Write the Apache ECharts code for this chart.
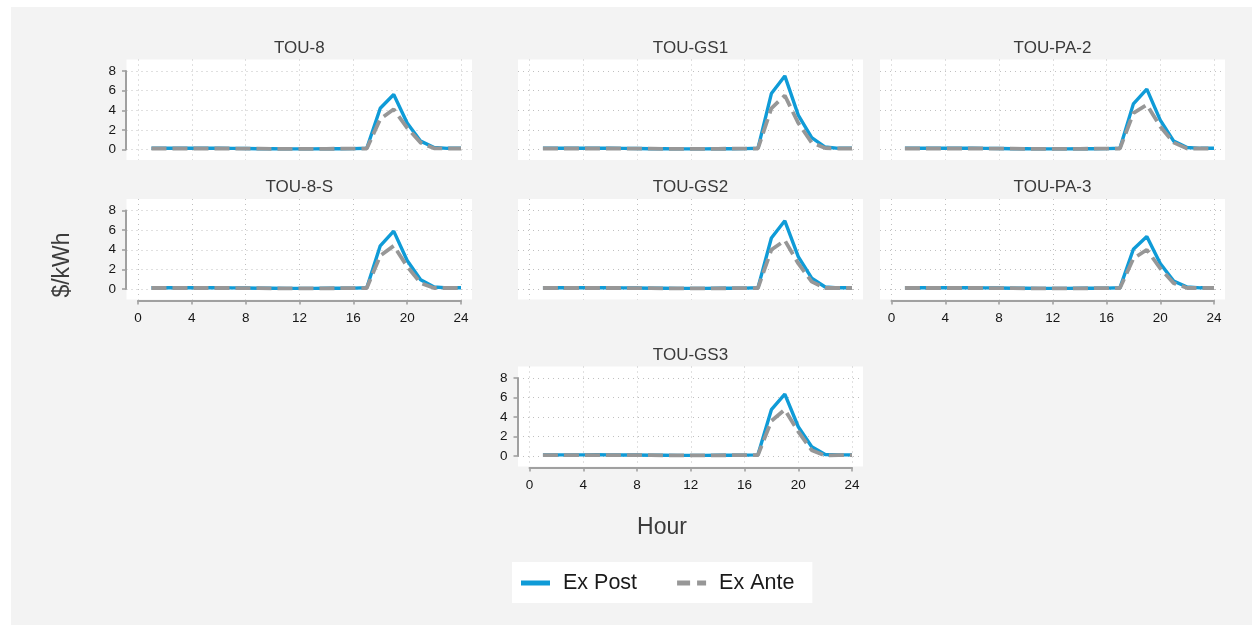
<!DOCTYPE html>
<html><head><meta charset="utf-8">
<script src="https://cdn.jsdelivr.net/npm/echarts@6/dist/echarts.min.js"></script>
<style>html,body{margin:0;padding:0;background:#fff}#c{width:1252px;height:625px}</style>
</head><body><div id="c"></div>
<script>
// ---------- DATA ----------
const hours = [1,2,3,4,5,6,7,8,9,10,11,12,13,14,15,16,17,18,19,20,21,22,23,24];
const panelNames = ['TOU-8','TOU-GS1','TOU-PA-2','TOU-8-S','TOU-GS2','TOU-PA-3','TOU-GS3'];
const xTicks = [0,4,8,12,16,20,24];
const yTicks = [0,2,4,6,8];

const post_TOU8   = [0.12,0.12,0.12,0.12,0.13,0.12,0.11,0.10,0.08,0.07,0.06,0.06,0.06,0.07,0.08,0.09,0.12,4.20,5.60,2.70,0.85,0.20,0.12,0.12];
const ante_TOU8   = [0.10,0.10,0.10,0.10,0.10,0.10,0.10,0.09,0.08,0.07,0.06,0.06,0.06,0.07,0.08,0.09,0.10,3.10,4.10,2.20,0.70,0.12,0.10,0.10];
const post_TOUGS1 = [0.12,0.12,0.12,0.12,0.13,0.12,0.11,0.10,0.08,0.07,0.06,0.06,0.06,0.07,0.08,0.09,0.12,5.70,7.50,3.50,1.20,0.25,0.12,0.12];
const ante_TOUGS1 = [0.10,0.10,0.10,0.10,0.10,0.10,0.10,0.09,0.08,0.07,0.06,0.06,0.06,0.07,0.08,0.09,0.10,4.20,5.50,2.70,0.70,0.15,0.10,0.10];
const post_TOUPA2 = [0.12,0.12,0.12,0.12,0.13,0.12,0.11,0.10,0.08,0.07,0.06,0.06,0.06,0.07,0.08,0.09,0.12,4.65,6.15,3.00,0.85,0.20,0.12,0.12];
const ante_TOUPA2 = [0.10,0.10,0.10,0.10,0.10,0.10,0.10,0.09,0.08,0.07,0.06,0.06,0.06,0.07,0.08,0.09,0.10,3.70,4.55,2.35,0.70,0.10,0.10,0.10];
const post_TOU8S  = [0.12,0.12,0.12,0.12,0.13,0.12,0.11,0.10,0.08,0.07,0.06,0.06,0.06,0.07,0.08,0.09,0.12,4.40,5.90,2.90,0.95,0.20,0.12,0.12];
const ante_TOU8S  = [0.10,0.10,0.10,0.10,0.10,0.10,0.10,0.09,0.08,0.07,0.06,0.06,0.06,0.07,0.08,0.09,0.10,3.40,4.40,2.30,0.60,0.10,0.10,0.10];
const post_TOUGS2 = [0.12,0.12,0.12,0.12,0.13,0.12,0.11,0.10,0.08,0.07,0.06,0.06,0.06,0.07,0.08,0.09,0.12,5.20,6.95,3.30,1.10,0.20,0.12,0.12];
const ante_TOUGS2 = [0.10,0.10,0.10,0.10,0.10,0.10,0.10,0.09,0.08,0.07,0.06,0.06,0.06,0.07,0.08,0.09,0.10,4.00,4.95,2.60,0.75,0.10,0.10,0.10];
const post_TOUPA3 = [0.12,0.12,0.12,0.12,0.13,0.12,0.11,0.10,0.08,0.07,0.06,0.06,0.06,0.07,0.08,0.09,0.12,4.05,5.35,2.60,0.80,0.20,0.12,0.12];
const ante_TOUPA3 = [0.10,0.10,0.10,0.10,0.10,0.10,0.10,0.09,0.08,0.07,0.06,0.06,0.06,0.07,0.08,0.09,0.10,3.10,4.00,2.10,0.60,0.10,0.10,0.10];
const post_TOUGS3 = [0.12,0.12,0.12,0.12,0.13,0.12,0.11,0.10,0.08,0.07,0.06,0.06,0.06,0.07,0.08,0.09,0.12,4.75,6.35,3.00,0.95,0.15,0.12,0.12];
const ante_TOUGS3 = [0.10,0.10,0.10,0.10,0.10,0.10,0.10,0.09,0.08,0.07,0.06,0.06,0.06,0.07,0.08,0.09,0.10,3.60,4.75,2.50,0.60,0.05,0.10,0.10];

const postSeries = [post_TOU8, post_TOUGS1, post_TOUPA2, post_TOU8S, post_TOUGS2, post_TOUPA3, post_TOUGS3];
const anteSeries = [ante_TOU8, ante_TOUGS1, ante_TOUPA2, ante_TOU8S, ante_TOUGS2, ante_TOUPA3, ante_TOUGS3];

// ---------- LAYOUT ----------
const FONT = "Arial, 'Liberation Sans', sans-serif";
const COLX = [[138,461],[529.5,852],[891.5,1214]];
const ROWY = [[71,149.5],[210.5,289],[378,456]];
const layout = [
  {c:0,r:0,left:true, bottom:false},
  {c:1,r:0,left:false,bottom:false},
  {c:2,r:0,left:false,bottom:false},
  {c:0,r:1,left:true, bottom:true},
  {c:1,r:1,left:false,bottom:false},
  {c:2,r:1,left:false,bottom:true},
  {c:1,r:2,left:true, bottom:true}
];
const PAD = {l:11.5, r:11, t:11.5, b:10.5};
const BLUE = '#0f9bd7', GRAY = '#979797', AXC = '#a0a0a0';

const grids = [], xAxes = [], yAxes = [], series = [], graphics = [];
graphics.push({type:'rect', z:-10, shape:{x:11,y:7,width:1241,height:618}, style:{fill:'#f3f3f3'}});

layout.forEach((p, i) => {
  const [x0, x24] = COLX[p.c];
  const [y8, y0] = ROWY[p.r];
  const w = x24 - x0, h = y0 - y8;
  const ppx = w / 24, ppy = h / 8;
  grids.push({left:x0-PAD.l, top:y8-PAD.t, width:w+PAD.l+PAD.r, height:h+PAD.t+PAD.b,
              show:true, backgroundColor:'#ffffff', borderWidth:0, containLabel:false});
  const gOuter = grids.length - 1;
  xAxes.push({type:'value', gridIndex:gOuter, min:-PAD.l/ppx, max:24+PAD.r/ppx,
    axisLine:{show:false}, axisLabel:{show:false},
    axisTick:{show:false, customValues:xTicks},
    splitLine:{show:true, lineStyle:{color:'#c0c0c0', width:1, type:[1,4]}}});
  yAxes.push({type:'value', gridIndex:gOuter, min:-PAD.b/ppy, max:8+PAD.t/ppy,
    axisLine:{show:false}, axisLabel:{show:false},
    axisTick:{show:false, customValues:yTicks},
    splitLine:{show:true, lineStyle:{color:'#c0c0c0', width:1, type:[1,4]}}});
  grids.push({left:x0, top:y8, width:w, height:h, show:false, containLabel:false});
  const gIn = grids.length - 1;
  xAxes.push({type:'value', gridIndex:gIn, min:0, max:24, interval:4, offset:11.5,
    axisLine:{show:p.bottom, onZero:false, lineStyle:{color:AXC, width:2}},
    axisTick:{show:p.bottom, inside:false, length:4, lineStyle:{color:AXC, width:1.6}},
    axisLabel:{show:p.bottom, margin:10.5, fontSize:13.5, color:'#161616', fontFamily:FONT},
    splitLine:{show:false}});
  yAxes.push({type:'value', gridIndex:gIn, min:0, max:8, interval:2, offset:12,
    axisLine:{show:p.left, onZero:false, lineStyle:{color:AXC, width:2}},
    axisTick:{show:p.left, inside:false, length:4, lineStyle:{color:AXC, width:1.6}},
    axisLabel:{show:p.left, margin:10, fontSize:13.5, color:'#161616', fontFamily:FONT},
    splitLine:{show:false}});
  series.push({name:'Ex Post', type:'line', xAxisIndex:gIn, yAxisIndex:gIn, symbol:'none',
    data: hours.map((hh,k)=>[hh, postSeries[i][k]]),
    lineStyle:{color:BLUE, width:3.4}, itemStyle:{color:BLUE}, z:3});
  series.push({name:'Ex Ante', type:'line', xAxisIndex:gIn, yAxisIndex:gIn, symbol:'none',
    data: hours.map((hh,k)=>[hh, anteSeries[i][k]]),
    lineStyle:{color:GRAY, width:3.8, type:[15,6]}, itemStyle:{color:GRAY}, z:4});
  graphics.push({type:'text', x:(x0-PAD.l + x24+PAD.r)/2, y:y8-PAD.t-11.5,
    style:{text:panelNames[i], font:'17px '+FONT, fill:'#3a3a3a',
      textAlign:'center', textVerticalAlign:'middle', align:'center', verticalAlign:'middle'}});
});

graphics.push({type:'text', x:63, y:265, rotation:Math.PI/2,
  style:{text:'$/kWh', font:'23px '+FONT, fill:'#3c3c3c',
    textAlign:'center', textVerticalAlign:'middle', align:'center', verticalAlign:'middle'}});
graphics.push({type:'text', x:662, y:528,
  style:{text:'Hour', font:'23px '+FONT, fill:'#3c3c3c',
    textAlign:'center', textVerticalAlign:'middle', align:'center', verticalAlign:'middle'}});

const chart = echarts.init(document.getElementById('c'), null, {renderer:'canvas'});
chart.setOption({
  animation:false,
  backgroundColor:'#ffffff',
  grid: grids, xAxis: xAxes, yAxis: yAxes, series: series,
  graphic: graphics,
  legend:{
    left:512, top:562, backgroundColor:'#ffffff', padding:[10,18,9,9],
    itemWidth:29, itemHeight:5, itemGap:40, selectedMode:false,
    textStyle:{fontSize:21.5, color:'#1a1a1a', fontFamily:FONT, padding:[0,0,0,8]},
    data:[{name:'Ex Post', icon:'path://M0,0h29v5h-29z'},
          {name:'Ex Ante', icon:'path://M0,0h13v5h-13zM20,0h9v5h-9z'}]
  }
});
</script></body></html>
